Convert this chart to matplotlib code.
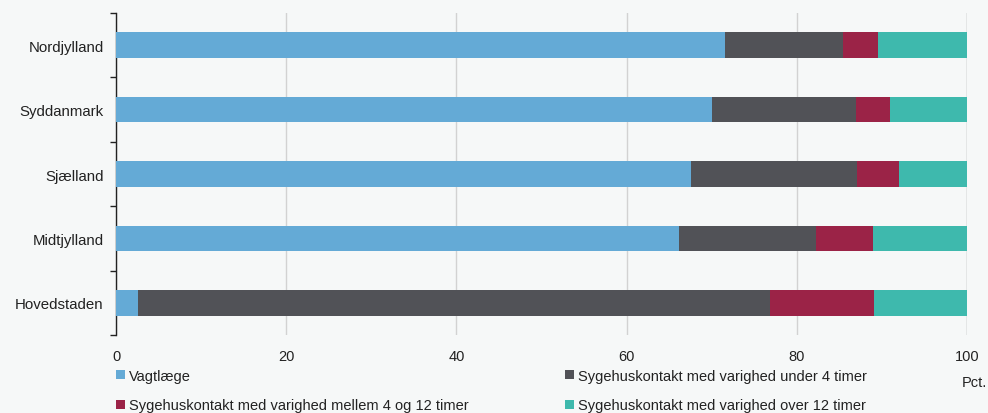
import matplotlib
matplotlib.use("Agg")
import matplotlib.pyplot as plt
from matplotlib.patches import Patch

plt.rcParams['font.family'] = ['Liberation Sans', 'DejaVu Sans']

regions = ["Nordjylland", "Syddanmark", "Sjælland", "Midtjylland", "Hovedstaden"]
series_names = [
    "Vagtlæge",
    "Sygehuskontakt med varighed under 4 timer",
    "Sygehuskontakt med varighed mellem 4 og 12 timer",
    "Sygehuskontakt med varighed over 12 timer",
]
vagtlaege = [71.6, 70.0, 67.6, 66.1, 2.6]
under_4 = [13.8, 17.0, 19.5, 16.1, 74.2]
mellem_4_12 = [4.2, 3.9, 4.9, 6.8, 12.3]
over_12 = [10.4, 9.1, 8.0, 11.0, 10.9]
x_ticks = [0, 20, 40, 60, 80, 100]

colors = ["#64aad6", "#515257", "#9b2347", "#3eb9ad"]
bg = "#f6f8f8"

fig = plt.figure(figsize=(9.88, 4.14), dpi=100, facecolor=bg)
ax = fig.add_axes([116 / 988, 1 - 336 / 414, (967 - 116) / 988, (336 - 14) / 414])
ax.set_facecolor(bg)

ypos = list(range(len(regions)))
left = [0.0] * len(regions)
handles = []
for vals, name, col in zip([vagtlaege, under_4, mellem_4_12, over_12], series_names, colors):
    ax.barh(ypos, vals, left=left, height=0.4, color=col, edgecolor="none", zorder=3)
    left = [a + b for a, b in zip(left, vals)]
    handles.append(Patch(facecolor=col, edgecolor="none", label=name))

ax.set_ylim(len(regions) - 0.5, -0.5)
ax.set_xlim(0, 100)
ax.set_yticks(ypos)
ax.set_yticklabels(regions, fontsize=10.8, color="#222222")
ax.tick_params(axis="y", length=0, pad=9)
# separators between categories on the y axis
ax.set_yticks([i - 0.5 for i in range(len(regions) + 1)], minor=True)
ax.tick_params(axis="y", which="minor", length=4, width=1, color="#222222", direction="out")

ax.set_xticks(x_ticks)
ax.set_xticklabels([str(t) for t in x_ticks], fontsize=10.5, color="#222222")
ax.tick_params(axis="x", length=0, pad=10)
ax.grid(axis="x", color="#d2d2d2", linewidth=1, zorder=0)

for s in ["top", "bottom", "right"]:
    ax.spines[s].set_visible(False)
ax.spines["left"].set_color("#222222")
ax.spines["left"].set_linewidth(1)
ax.axvline(100, color="#b8b8b8", linewidth=1, zorder=1)

legend_kw = dict(loc="upper left", frameon=False, fontsize=10.5, handlelength=0.6,
                 handleheight=0.6, handletextpad=0.3, labelspacing=1.05,
                 borderaxespad=0, borderpad=0)
leg1 = fig.legend(handles=[handles[0], handles[2]],
                  bbox_to_anchor=(116 / 988, 1 - 370 / 414), **legend_kw)
leg2 = fig.legend(handles=[handles[1], handles[3]],
                  bbox_to_anchor=(565 / 988, 1 - 370 / 414), **legend_kw)
for lg in (leg1, leg2):
    for t in lg.get_texts():
        t.set_color("#222222")

fig.text(987 / 988, 1 - 383 / 414, "Pct.", ha="right", va="center", fontsize=10.5, color="#222222")

fig.savefig("out.png", dpi=100, facecolor=bg)
